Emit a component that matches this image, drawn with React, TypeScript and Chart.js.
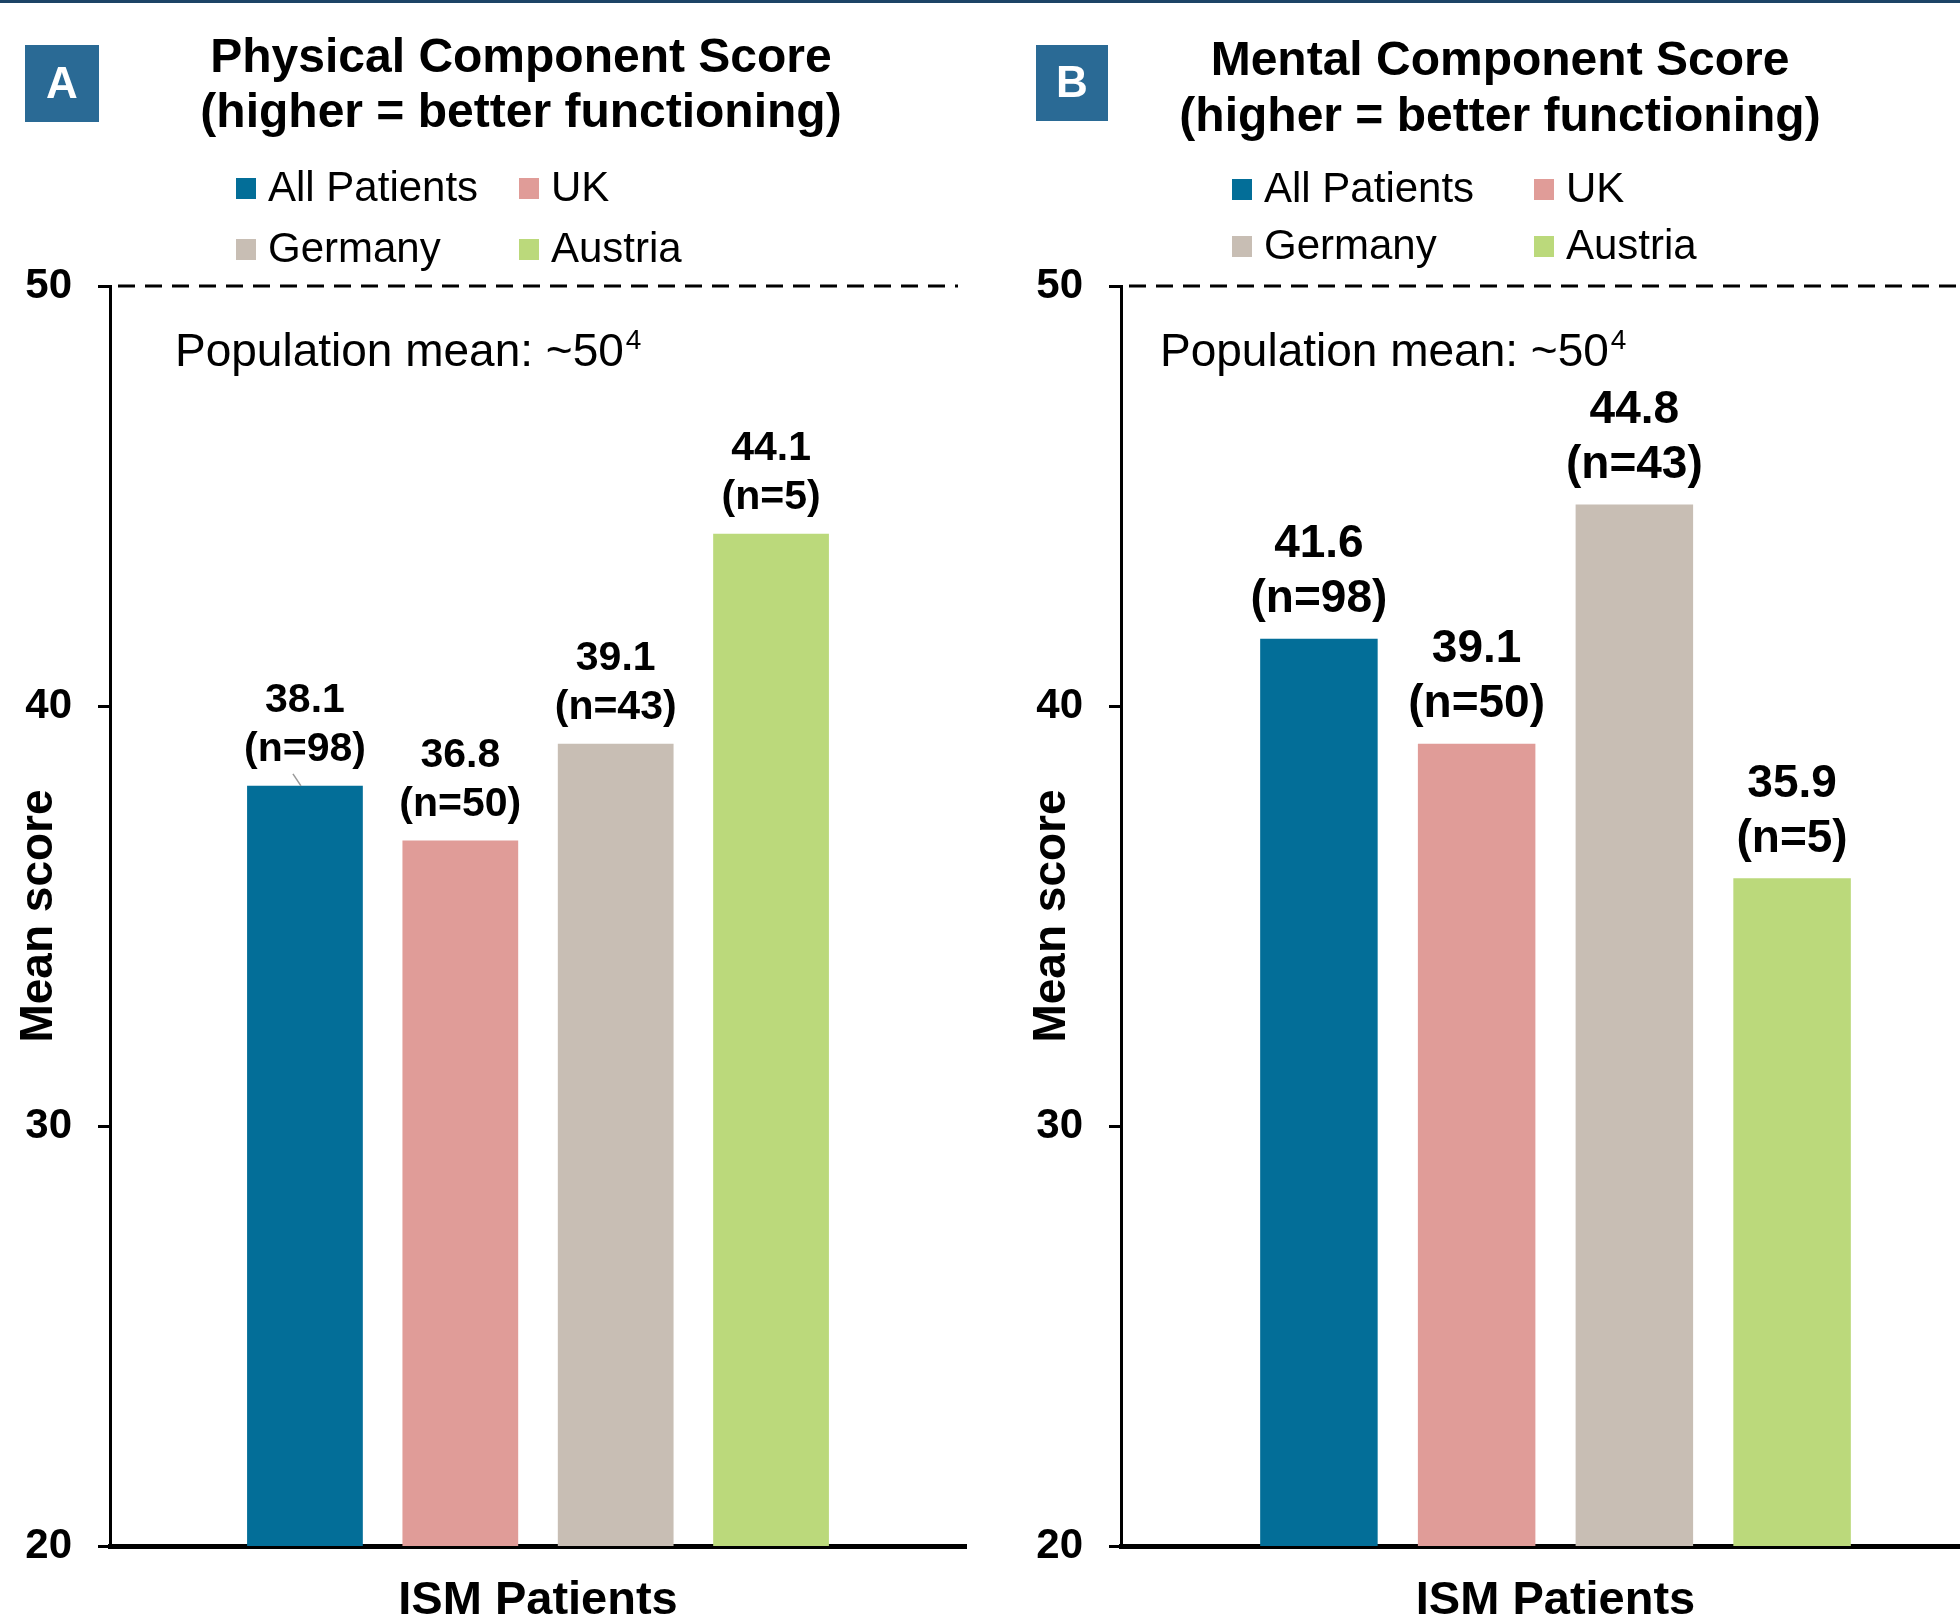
import React, { useEffect, useRef } from "react";
import { Chart, registerables } from "chart.js";

Chart.register(...registerables);

const FONT = "'Liberation Sans', Arial, sans-serif";

const categories = ["ISM Patients"];
const seriesNames = ["All Patients", "UK", "Germany", "Austria"];
const seriesColors = ["#036e98", "#e09c98", "#c8beb4", "#bbd97b"];
const pcsValues = [38.1, 36.8, 39.1, 44.1];
const mcsValues = [41.6, 39.1, 44.8, 35.9];
const sampleSizes = [98, 50, 43, 5];
const yTicks = [20, 30, 40, 50];
const populationMean = 50;
const yAxisTitle = "Mean score";
const populationText = "Population mean: ~50";
const populationRef = "4";

type PanelCfg = {
  letter: string;
  titleLines: string[];
  values: number[];
  canvasLeft: number;
  canvasWidth: number;
  padLeft: number;
  padRight: number;
  titleX: number;
  titleY: number[];
  box: number[];
  legendCols: number[];
  legendRows: number[];
  popX: number;
  popY: number;
  labelFont: number;
  labelGap: number[];
  dashEnd: number | null;
  leader: boolean;
  yTitlePad: number;
};

const panelA: PanelCfg = {
  letter: "A",
  titleLines: ["Physical Component Score", "(higher = better functioning)"],
  values: pcsValues,
  canvasLeft: 0,
  canvasWidth: 980,
  padLeft: 0,
  padRight: 14,
  titleX: 521,
  titleY: [59, 114],
  box: [25, 45, 74, 77],
  legendCols: [236, 519],
  legendRows: [188, 249],
  popX: 175,
  popY: 353,
  labelFont: 41,
  labelGap: [36, 85],
  dashEnd: 958,
  leader: true,
  yTitlePad: 12,
};

const panelB: PanelCfg = {
  letter: "B",
  titleLines: ["Mental Component Score", "(higher = better functioning)"],
  values: mcsValues,
  canvasLeft: 980,
  canvasWidth: 1010,
  padLeft: 31,
  padRight: 0,
  titleX: 520,
  titleY: [62, 118],
  box: [56, 45, 72, 76],
  legendCols: [252, 554],
  legendRows: [189, 246],
  popX: 180,
  popY: 353,
  labelFont: 46,
  labelGap: [39, 94],
  dashEnd: null,
  leader: false,
  yTitlePad: 14,
};

function Panel({ cfg }: { cfg: PanelCfg }) {
  const ref = useRef<HTMLCanvasElement>(null);
  useEffect(() => {
    const canvas = ref.current;
    if (!canvas) return;
    const decor = {
      id: "panelDecor",
      afterDraw(chart: any) {
        const ctx = chart.ctx as CanvasRenderingContext2D;
        const area = chart.chartArea;
        const yScale = chart.scales.y;
        ctx.save();
        // top rule
        ctx.fillStyle = "#1d4466";
        ctx.fillRect(0, 0, chart.width, 3);
        // letter box
        ctx.fillStyle = "#2a6a95";
        ctx.fillRect(cfg.box[0], cfg.box[1], cfg.box[2], cfg.box[3]);
        ctx.fillStyle = "#ffffff";
        ctx.font = `bold 44px ${FONT}`;
        ctx.textAlign = "center";
        ctx.textBaseline = "middle";
        ctx.fillText(cfg.letter, cfg.box[0] + cfg.box[2] / 2, cfg.box[1] + cfg.box[3] / 2 + 2);
        // titles
        ctx.fillStyle = "#000";
        ctx.font = `bold 48px ${FONT}`;
        cfg.titleLines.forEach((t, i) => ctx.fillText(t, cfg.titleX, cfg.titleY[i]));
        // legend
        ctx.font = `42px ${FONT}`;
        ctx.textAlign = "left";
        chart.data.datasets.forEach((ds: any, i: number) => {
          const col = i % 2;
          const row = Math.floor(i / 2);
          const x = cfg.legendCols[col];
          const y = cfg.legendRows[row];
          ctx.fillStyle = ds.backgroundColor;
          ctx.fillRect(x, y - 10, 20, 21);
          ctx.fillStyle = "#000";
          ctx.fillText(ds.label, x + 32, y + 1);
        });
        // dashed population mean line
        const y50 = yScale.getPixelForValue(populationMean);
        ctx.strokeStyle = "#000";
        ctx.lineWidth = 3;
        ctx.setLineDash([17, 10]);
        ctx.beginPath();
        ctx.moveTo(area.left + 8, y50);
        ctx.lineTo(cfg.dashEnd ?? chart.width, y50);
        ctx.stroke();
        ctx.setLineDash([]);
        // population mean text
        ctx.font = `46px ${FONT}`;
        ctx.fillStyle = "#000";
        ctx.fillText(populationText, cfg.popX, cfg.popY);
        const w = ctx.measureText(populationText).width;
        ctx.font = `28px ${FONT}`;
        ctx.fillText(populationRef, cfg.popX + w + 2, cfg.popY - 12);
        // data labels
        ctx.textAlign = "center";
        ctx.font = `bold ${cfg.labelFont}px ${FONT}`;
        chart.data.datasets.forEach((ds: any, i: number) => {
          const meta = chart.getDatasetMeta(i);
          const bar = meta.data[0];
          if (!bar) return;
          const v = ds.data[0] as number;
          ctx.fillStyle = "#000";
          ctx.fillText(v.toFixed(1), bar.x, bar.y - cfg.labelGap[1]);
          ctx.fillText(`(n=${sampleSizes[i]})`, bar.x, bar.y - cfg.labelGap[0]);
          if (cfg.leader && i === 0) {
            ctx.strokeStyle = "#999";
            ctx.lineWidth = 1.5;
            ctx.beginPath();
            ctx.moveTo(bar.x - 12, bar.y - 12);
            ctx.lineTo(bar.x - 4, bar.y);
            ctx.stroke();
          }
        });
        ctx.restore();
      },
    };
    const chart = new Chart(canvas, {
      type: "bar",
      data: {
        labels: categories,
        datasets: seriesNames.map((n, i) => ({
          label: n,
          data: [cfg.values[i]],
          backgroundColor: seriesColors[i],
          borderWidth: 0,
        })),
      },
      options: {
        responsive: false,
        animation: false,
        devicePixelRatio: 1,
        layout: { padding: { top: 286, left: cfg.padLeft, right: cfg.padRight, bottom: 0 } },
        datasets: { bar: { categoryPercentage: 0.726, barPercentage: 0.745 } },
        plugins: {
          legend: { display: false },
          tooltip: { enabled: false },
          title: { display: false },
        },
        scales: {
          x: {
            grid: { display: false, drawTicks: false },
            border: { display: true, color: "#000", width: 5 },
            ticks: {
              font: { family: FONT, size: 47, weight: "bold" },
              color: "#000",
              padding: 27,
            },
            afterFit: (s: any) => {
              s.height = 72;
            },
          },
          y: {
            min: 20,
            max: 50,
            afterBuildTicks: (s: any) => {
              s.ticks = yTicks.map((v) => ({ value: v }));
            },
            grid: {
              display: true,
              drawOnChartArea: false,
              drawTicks: true,
              tickLength: 12,
              color: "#000",
              lineWidth: 3,
            },
            border: { display: true, color: "#000", width: 3 },
            ticks: {
              font: { family: FONT, size: 42, weight: "bold" },
              color: "#000",
              padding: 26,
            },
            title: {
              display: true,
              text: yAxisTitle,
              font: { family: FONT, size: 46, weight: "bold" },
              color: "#000",
              padding: { top: cfg.yTitlePad, bottom: 0 },
            },
            afterFit: (s: any) => {
              s.width = 110;
            },
          },
        },
      } as any,
      plugins: [decor],
    });
    return () => chart.destroy();
  }, [cfg]);
  return (
    <canvas
      ref={ref}
      width={cfg.canvasWidth}
      height={1618}
      style={{
        position: "absolute",
        left: cfg.canvasLeft,
        top: 0,
        width: cfg.canvasWidth,
        height: 1618,
      }}
    />
  );
}

export default function App() {
  return (
    <div
      style={{
        position: "fixed",
        left: 0,
        top: 0,
        width: 1960,
        height: 1618,
        overflow: "hidden",
        background: "#ffffff",
      }}
    >
      <Panel cfg={panelA} />
      <Panel cfg={panelB} />
    </div>
  );
}
